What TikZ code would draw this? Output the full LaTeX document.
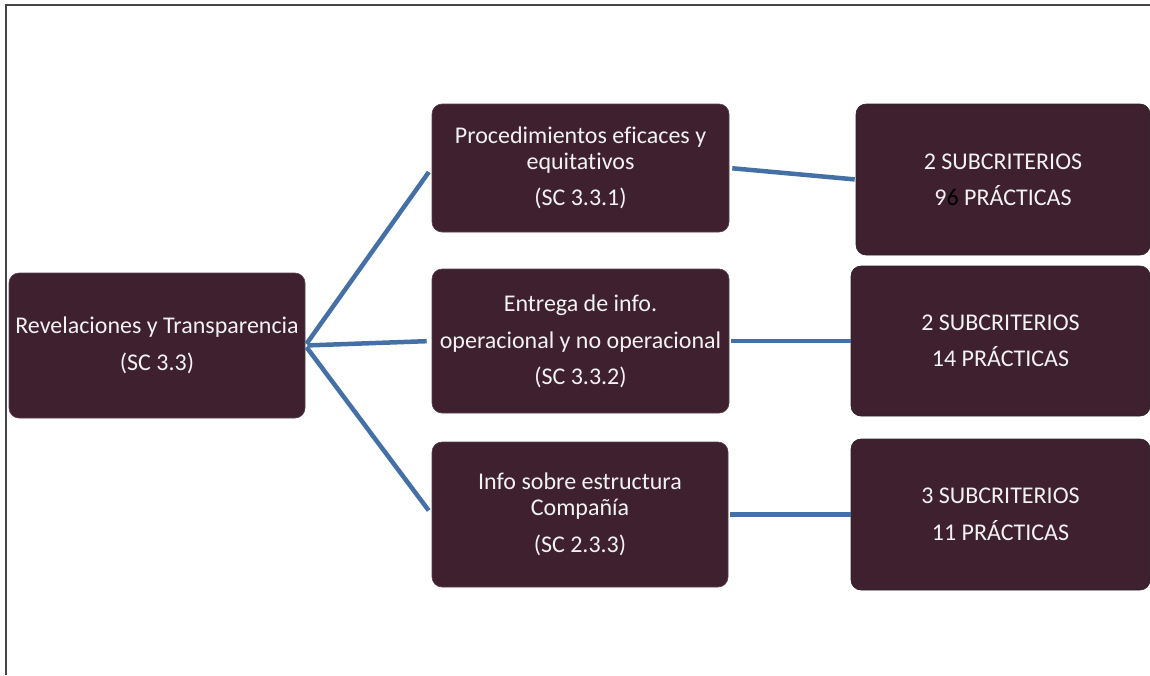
\documentclass[tikz,border=0pt]{standalone}
\usepackage{fontspec}
\setmainfont[Ligatures={NoCommon}]{Carlito}
\definecolor{boxfill}{RGB}{62,32,46}
\definecolor{boxtext}{RGB}{242,242,242}
\definecolor{linkblue}{RGB}{68,112,166}
\definecolor{framegray}{RGB}{70,70,70}
\begin{document}
\begin{tikzpicture}[x=1pt,y=-1pt,
  card/.style={fill=boxfill, draw=boxfill!85!white, line width=0.6pt, rounded corners=10pt,
    text=boxtext, align=center, inner sep=0pt,
    font=\fontsize{24}{26}\selectfont},
  outcard/.style={card, draw=black!85},
  link/.style={draw=linkblue, line width=4.5pt}
]
\useasboundingbox (0,0) rectangle (1150,675);
% page frame
\draw[framegray, line width=1.4pt] (6,675) -- (6,5) -- (1150,5);

% root
\node[card, minimum width=296pt, minimum height=145pt] (root) at (157,345.5)
  {Revelaciones y Transparencia\\[11pt](SC 3.3)};

% sub-criteria
\node[card, minimum width=297pt, minimum height=128pt] (m1) at (580.5,168)
  {Procedimientos eficaces y\\equitativos\\[10pt](SC 3.3.1)};
\node[card, minimum width=297pt, minimum height=144pt] (m2) at (580.5,341)
  {Entrega de info.\\[11pt]operacional y no operacional\\[10pt](SC 3.3.2)};
\node[card, minimum width=296pt, minimum height=145pt] (m3) at (580,514.5)
  {Info sobre estructura\\Compañía\\[11pt](SC 2.3.3)};

% counts
\node[outcard, minimum width=294pt, minimum height=151pt] (r1) at (1003,179.5)
  {2 SUBCRITERIOS\\[10pt]9{\color{black}6} PRÁCTICAS};
\node[outcard, minimum width=299pt, minimum height=150pt] (r2) at (1000.5,341)
  {2 SUBCRITERIOS\\[10pt]14 PRÁCTICAS};
\node[outcard, minimum width=299pt, minimum height=151pt] (r3) at (1000.5,514.5)
  {3 SUBCRITERIOS\\[11pt]11 PRÁCTICAS};

% connectors
\foreach \m in {m1,m2,m3}
  \draw[link, shorten <=2pt, shorten >=5pt] (root.east) -- (\m.west);
\draw[link, shorten <=3pt, shorten >=1pt] (m1.east) -- (r1.west);
\draw[link, shorten <=2pt, shorten >=0pt] (m2.east) -- (r2.west);
\draw[link, shorten <=2pt, shorten >=0pt] (m3.east) -- (r3.west);
\end{tikzpicture}
\end{document}
